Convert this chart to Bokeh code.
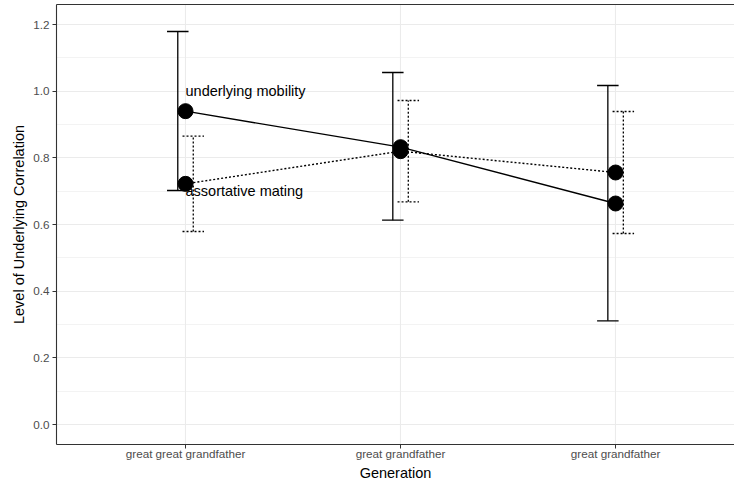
from bokeh.plotting import figure
from bokeh.models import (Range1d, FixedTicker, PrintfTickFormatter, LinearAxis,
                          ColumnDataSource, Title)
from bokeh.core.properties import value
from bokeh.embed import file_html
from bokeh.resources import INLINE

# Generations on the x axis (positions and their labels)
gen_pos = [1, 2, 3]
gen_labels = ["great great grandfather", "great grandfather", "great grandfather"]

# Underlying mobility: estimate with interval
mobility = [0.940, 0.832, 0.663]
mobility_lo = [0.702, 0.613, 0.311]
mobility_hi = [1.179, 1.056, 1.017]

# Assortative mating: estimate with interval
mating = [0.722, 0.820, 0.756]
mating_lo = [0.579, 0.668, 0.573]
mating_hi = [0.865, 0.972, 0.939]

# Series labels placed next to the first generation
label_text = ["underlying mobility", "assortative mating"]
label_y = [1.0, 0.70]

FONT = "Liberation Sans"
DODGE = 0.036      # horizontal shift of the interval bars
CAP = 0.05         # half width of interval caps

p = figure(width=734, height=481, output_backend="svg", toolbar_location=None,
           x_range=Range1d(0.4, 3.553), y_range=Range1d(-0.06, 1.26),
           min_border_left=56, min_border_right=0, min_border_top=4,
           min_border_bottom=37)
p.outline_line_color = None
p.background_fill_color = "white"
p.border_fill_color = "white"

# axes
xt = FixedTicker(ticks=gen_pos)
yt = FixedTicker(ticks=[0.0, 0.2, 0.4, 0.6, 0.8, 1.0, 1.2],
                 minor_ticks=[0.1, 0.3, 0.5, 0.7, 0.9, 1.1])
p.xaxis.ticker = xt
p.xaxis.major_label_overrides = {pos: lab for pos, lab in zip(gen_pos, gen_labels)}
p.yaxis.ticker = yt
p.yaxis.formatter = PrintfTickFormatter(format="%.1f")
p.yaxis.axis_label = "Level of Underlying Correlation"

for ax in (p.xaxis[0], p.yaxis[0]):
    ax.axis_line_color = "#333333"
    ax.axis_line_width = 1.1
    ax.major_tick_line_color = "#333333"
    ax.major_tick_in = 0
    ax.major_tick_out = 4
    ax.minor_tick_line_color = None
    ax.major_label_text_font = FONT
    ax.major_label_text_font_size = "11.7px"
    ax.major_label_text_color = "#4D4D4D"
    ax.axis_label_text_font = FONT
    ax.axis_label_text_font_size = "14.5px"
    ax.axis_label_text_font_style = "normal"
    ax.axis_label_text_color = "black"
p.xaxis.major_label_standoff = -2
p.yaxis.major_label_standoff = 3
p.yaxis.axis_label_standoff = 3

# x axis title, set below the tick labels and centred on the generation span
p.add_layout(Title(text="Generation", align="center", offset=5, standoff=1,
                   text_font=FONT, text_font_size="14.5px",
                   text_line_height=1.0,
                   text_font_style="normal", text_color="black"), "below")

# top border of the panel
top = LinearAxis(ticker=FixedTicker(ticks=[]), axis_line_color="#333333",
                 axis_line_width=1.1, major_tick_line_color=None,
                 minor_tick_line_color=None)
p.add_layout(top, "above")

# grid
p.xgrid.ticker = xt
p.ygrid.ticker = yt
p.xgrid.grid_line_color = "#EBEBEB"
p.ygrid.grid_line_color = "#EBEBEB"
p.xgrid.grid_line_width = 1.1
p.ygrid.grid_line_width = 1.1
p.ygrid.minor_grid_line_color = "#EBEBEB"
p.ygrid.minor_grid_line_width = 0.6


def interval(src_x, lo, hi, shift, dash):
    xs = [x + shift for x in src_x]
    p.segment(x0=xs, y0=lo, x1=xs, y1=hi, line_color="black",
              line_width=1.3, line_dash=dash)
    p.segment(x0=[x - CAP for x in xs], y0=lo, x1=[x + CAP for x in xs], y1=lo,
              line_color="black", line_width=1.3, line_dash=dash)
    p.segment(x0=[x - CAP for x in xs], y0=hi, x1=[x + CAP for x in xs], y1=hi,
              line_color="black", line_width=1.3, line_dash=dash)


interval(gen_pos, mobility_lo, mobility_hi, -DODGE, "solid")
interval(gen_pos, mating_lo, mating_hi, DODGE, "2 2")

# connecting lines
p.line(gen_pos, mobility, line_color="black", line_width=1.4)
p.line(gen_pos, mating, line_color="black", line_width=1.4, line_dash="2 2")

# points
p.scatter(gen_pos, mobility, marker="circle", size=15, fill_color="black",
          line_color="black")
p.scatter(gen_pos, mating, marker="circle", size=15, fill_color="black",
          line_color="black")

# series labels
lab_src = ColumnDataSource(dict(x=[gen_pos[0]] * len(label_text), y=label_y,
                                text=label_text))
p.text(x="x", y="y", text="text", source=lab_src, text_align="left",
       text_baseline="middle", text_font=value(FONT), text_font_size="14.5px",
       text_color="black")

open("out.html", "w").write(file_html(p, INLINE))
